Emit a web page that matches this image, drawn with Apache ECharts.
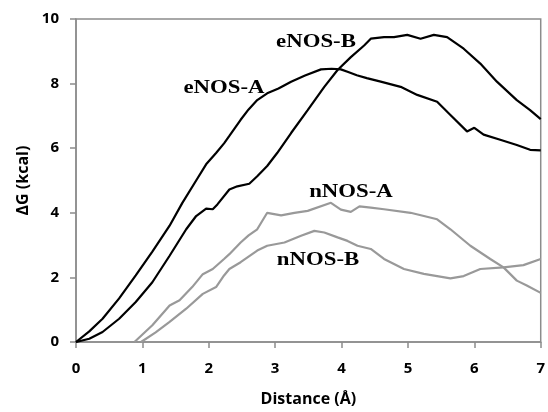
<!DOCTYPE html>
<html>
<head>
<meta charset="utf-8">
<script src="https://cdn.jsdelivr.net/npm/echarts@6/dist/echarts.min.js"></script>
<style>html,body{margin:0;padding:0;background:#fff}#c{width:548px;height:412px}</style>
</head>
<body>
<div id="c"></div>
<script>
var xTicks = [0, 1, 2, 3, 4, 5, 6, 7];
var yTicks = [0, 2, 4, 6, 8, 10];
var seriesNames = ['eNOS-A', 'eNOS-B', 'nNOS-A', 'nNOS-B'];

var eNOSA = [[0,0],[0.2,0.33],[0.4,0.72],[0.65,1.35],[0.9,2.06],[1.15,2.8],[1.41,3.6],[1.6,4.3],[1.81,5.0],[1.96,5.5],[2.11,5.85],[2.23,6.15],[2.31,6.38],[2.48,6.88],[2.6,7.2],[2.73,7.49],[2.88,7.7],[3.05,7.85],[3.24,8.06],[3.45,8.25],[3.69,8.44],[3.85,8.46],[3.99,8.44],[4.1,8.36],[4.23,8.26],[4.38,8.17],[4.59,8.06],[4.89,7.9],[5.14,7.65],[5.44,7.44],[5.64,7.03],[5.89,6.52],[6.0,6.63],[6.14,6.42],[6.39,6.26],[6.64,6.1],[6.84,5.95],[7.0,5.93]];
var eNOSB = [[0,0],[0.2,0.1],[0.4,0.31],[0.65,0.72],[0.9,1.24],[1.15,1.85],[1.41,2.67],[1.66,3.49],[1.81,3.9],[1.96,4.13],[2.06,4.11],[2.13,4.26],[2.31,4.72],[2.43,4.82],[2.61,4.9],[2.73,5.13],[2.88,5.45],[3.03,5.85],[3.24,6.47],[3.49,7.18],[3.74,7.9],[3.94,8.42],[4.14,8.82],[4.34,9.18],[4.44,9.39],[4.64,9.44],[4.79,9.44],[4.99,9.51],[5.19,9.39],[5.39,9.51],[5.59,9.44],[5.84,9.08],[6.09,8.62],[6.34,8.06],[6.64,7.49],[6.84,7.18],[7.0,6.9]];
var nNOSA = [[0.88,0],[1.15,0.52],[1.41,1.13],[1.56,1.29],[1.75,1.7],[1.91,2.1],[2.06,2.26],[2.23,2.57],[2.31,2.72],[2.48,3.08],[2.6,3.3],[2.73,3.49],[2.88,4.0],[3.09,3.92],[3.29,4.0],[3.49,4.06],[3.84,4.31],[3.99,4.1],[4.14,4.03],[4.27,4.2],[4.44,4.16],[4.64,4.11],[5.04,4.0],[5.44,3.8],[5.64,3.49],[5.94,2.98],[6.24,2.57],[6.44,2.31],[6.64,1.9],[6.79,1.75],[7.0,1.52]];
var nNOSB = [[0.98,0],[1.2,0.3],[1.41,0.62],[1.66,1.03],[1.91,1.49],[2.11,1.7],[2.23,2.06],[2.31,2.26],[2.48,2.47],[2.73,2.83],[2.88,2.98],[3.14,3.08],[3.39,3.29],[3.59,3.44],[3.74,3.39],[3.94,3.24],[4.09,3.13],[4.24,2.98],[4.44,2.88],[4.64,2.57],[4.94,2.26],[5.24,2.11],[5.64,1.97],[5.84,2.04],[6.09,2.26],[6.44,2.31],[6.74,2.38],[7.0,2.57]];

var chart = echarts.init(document.getElementById('c'), null, {renderer: 'canvas'});
var axisColor = '#8c8c8c';
var tickFont = {fontFamily: 'Open Sans', fontWeight: 'bold', fontSize: 15, color: '#000'};
function lineSeries(name, data, color) {
  return {name: name, type: 'line', data: data, showSymbol: false, symbol: 'none',
    lineStyle: {color: color, width: 2.2}, itemStyle: {color: color}, animation: false, z: 3};
}
var labelStyle = {fontFamily: 'Liberation Serif', fontWeight: 'bold', fontSize: 19, fill: '#000', textAlign: 'center', textVerticalAlign: 'middle'};
function lab(text, x, y) {
  return {type: 'text', x: x, y: y, scaleX: 1.2, scaleY: 1, style: Object.assign({text: text}, labelStyle), z: 10};
}
chart.setOption({
  animation: false,
  backgroundColor: '#fff',
  grid: {left: 76, right: 6, top: 19, bottom: 69, show: true, borderColor: axisColor, borderWidth: 1.5, containLabel: false},
  xAxis: {
    type: 'value', min: xTicks[0], max: xTicks[xTicks.length - 1], interval: 1,
    name: 'Distance (Å)', nameLocation: 'middle', nameGap: 49,
    nameTextStyle: {fontFamily: 'Open Sans', fontWeight: 'bold', fontSize: 16, color: '#000'},
    axisLine: {show: true, lineStyle: {color: axisColor, width: 1.5}},
    axisTick: {show: true, length: 6, inside: false, lineStyle: {color: axisColor, width: 1.5}},
    axisLabel: Object.assign({margin: 19, formatter: function (v) { return xTicks.indexOf(v) >= 0 ? String(v) : ''; }}, tickFont),
    splitLine: {show: false}
  },
  yAxis: {
    type: 'value', min: yTicks[0], max: yTicks[yTicks.length - 1], interval: 2,
    name: 'ΔG (kcal)', nameLocation: 'middle', nameGap: 45, nameRotate: 90,
    nameTextStyle: {fontFamily: 'Open Sans', fontWeight: 'bold', fontSize: 16, color: '#000'},
    axisLine: {show: true, lineStyle: {color: axisColor, width: 1.5}},
    axisTick: {show: true, length: 6, inside: false, lineStyle: {color: axisColor, width: 1.5}},
    axisLabel: Object.assign({margin: 17, formatter: function (v) { return yTicks.indexOf(v) >= 0 ? String(v) : ''; }}, tickFont),
    splitLine: {show: false}
  },
  series: [
    lineSeries(seriesNames[0], eNOSA, '#000'),
    lineSeries(seriesNames[1], eNOSB, '#000'),
    lineSeries(seriesNames[2], nNOSA, '#999'),
    lineSeries(seriesNames[3], nNOSB, '#999')
  ],
  graphic: [
    lab(seriesNames[1], 316, 42),
    lab(seriesNames[0], 224, 88),
    lab(seriesNames[2], 351, 192),
    lab(seriesNames[3], 318, 260)
  ]
});
</script>
</body>
</html>
